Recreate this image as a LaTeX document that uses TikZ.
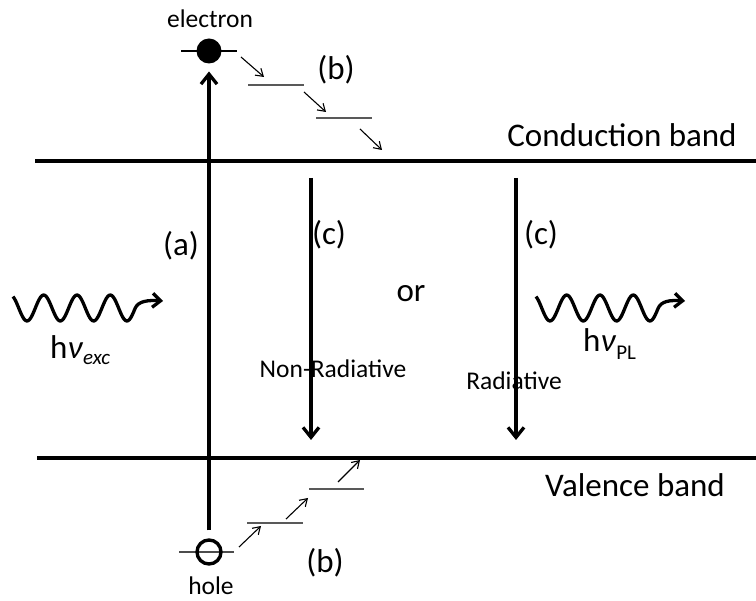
\documentclass[tikz,border=0pt]{standalone}
\usepackage{fontspec}
\setmainfont{Carlito}
\usetikzlibrary{arrows.meta}
\begin{document}
\begin{tikzpicture}[x=1pt,y=-1pt,
  band/.style={line width=3.3pt,line cap=butt},
  bigarrow/.style={line width=3.5pt,-{Straight Barb[length=10pt,width=16pt,line width=3.3pt]}},
  smallarrow/.style={line width=1.1pt,-{Straight Barb[length=7pt,width=9pt,line width=1.1pt]}},
  level/.style={line width=1.4pt,draw=black!65},
  wave/.style={line width=3.3pt,line join=round,-{Straight Barb[length=8pt,width=14pt,line width=3.3pt]}},
  bigtxt/.style={font=\fontsize{33}{38}\selectfont,inner sep=0pt},
  smalltxt/.style={font=\fontsize{25.5}{30}\selectfont,inner sep=0pt}]
\useasboundingbox (0,0) rectangle (756,601);
% bands
\coordinate (cbL) at (35,161); \coordinate (cbR) at (756,161);
\coordinate (vbL) at (37,458); \coordinate (vbR) at (756,458);
\draw[band] (cbL) -- (cbR);
\draw[band] (vbL) -- (vbR);
\node[bigtxt,anchor=base] (cbt) at (622,147) {Conduction band};
\node[bigtxt,anchor=base] (vbt) at (635,497) {Valence band};
% electron and hole
\draw[line width=1.4pt] (181,51) -- (237,51);
\node[circle,fill=black,minimum size=25pt,inner sep=0pt,outer sep=0pt] (e) at (209,51) {};
\draw[line width=1.4pt,draw=black!70] (179,552) -- (234,552);
\node[circle,draw=black,line width=3.4pt,fill=none,minimum size=24pt,inner sep=0pt,outer sep=1.7pt] (h) at (209,552) {};
\node[smalltxt,anchor=base] (et) at (210,28) {electron};
\node[smalltxt,anchor=base] (ht) at (211,595) {hole};
% (a) excitation
\draw[bigarrow,shorten <=8pt,shorten >=8pt] (h) -- (e);
\node[bigtxt] (la) at (181,246) {(a)};
% (c) arrows
\coordinate (c1s) at (311,178); \coordinate (c1e) at (311,440);
\coordinate (c2s) at (516,178); \coordinate (c2e) at (516,440);
\draw[bigarrow] (c1s) -- (c1e);
\draw[bigarrow] (c2s) -- (c2e);
\node[bigtxt] (lc1) at (329,235) {(c)};
\node[bigtxt] (lc2) at (541,235) {(c)};
\node[bigtxt,anchor=base] (or) at (411,302) {or};
\node[smalltxt,anchor=base] (nr) at (333,378) {Non-Radiative};
\node[smalltxt,anchor=base] (rd) at (514,390) {Radiative};
% electron relaxation steps
\coordinate (ta1) at (241,57); \coordinate (ta2) at (264,77);
\coordinate (tl1) at (248,85); \coordinate (tl2) at (304,85);
\coordinate (tb1) at (304,92); \coordinate (tb2) at (326,112);
\coordinate (tm1) at (316,118); \coordinate (tm2) at (372,118);
\coordinate (tc1) at (360,129); \coordinate (tc2) at (382,150);
\draw[smallarrow] (ta1) -- (ta2);
\draw[level] (tl1) -- (tl2);
\draw[smallarrow] (tb1) -- (tb2);
\draw[level] (tm1) -- (tm2);
\draw[smallarrow] (tc1) -- (tc2);
\node[bigtxt] (lb1) at (336,70) {(b)};
% hole relaxation steps
\coordinate (ba1) at (239,547); \coordinate (ba2) at (261,526);
\coordinate (bl1) at (247,523); \coordinate (bl2) at (303,523);
\coordinate (bb1) at (286,519); \coordinate (bb2) at (308,498);
\coordinate (bm1) at (309,489); \coordinate (bm2) at (364,489);
\coordinate (bc1) at (338,482); \coordinate (bc2) at (360,460);
\draw[smallarrow] (ba1) -- (ba2);
\draw[level] (bl1) -- (bl2);
\draw[smallarrow] (bb1) -- (bb2);
\draw[level] (bm1) -- (bm2);
\draw[smallarrow] (bc1) -- (bc2);
\node[bigtxt] (lb2) at (325,563) {(b)};
% photons
\draw[wave] plot[domain=13:135,samples=90] (\x,{308+13*sin((\x-18.7)*10.811)})
  .. controls (138,301) and (148,300) .. (163,301);
\draw[wave] plot[domain=536:658,samples=90] (\x,{308+13*sin((\x-541.7)*10.811)})
  .. controls (661,301) and (670,300) .. (685,301);
\node[bigtxt,anchor=base west] (hexc) at (50,359) {h\textit{ν}\raisebox{-6pt}{\fontsize{21}{24}\selectfont\textit{exc}}};
\node[bigtxt,anchor=base west] (hpl) at (583,352) {h\textit{ν}\raisebox{-8pt}{\fontsize{21}{24}\selectfont PL}};
\end{tikzpicture}
\end{document}
